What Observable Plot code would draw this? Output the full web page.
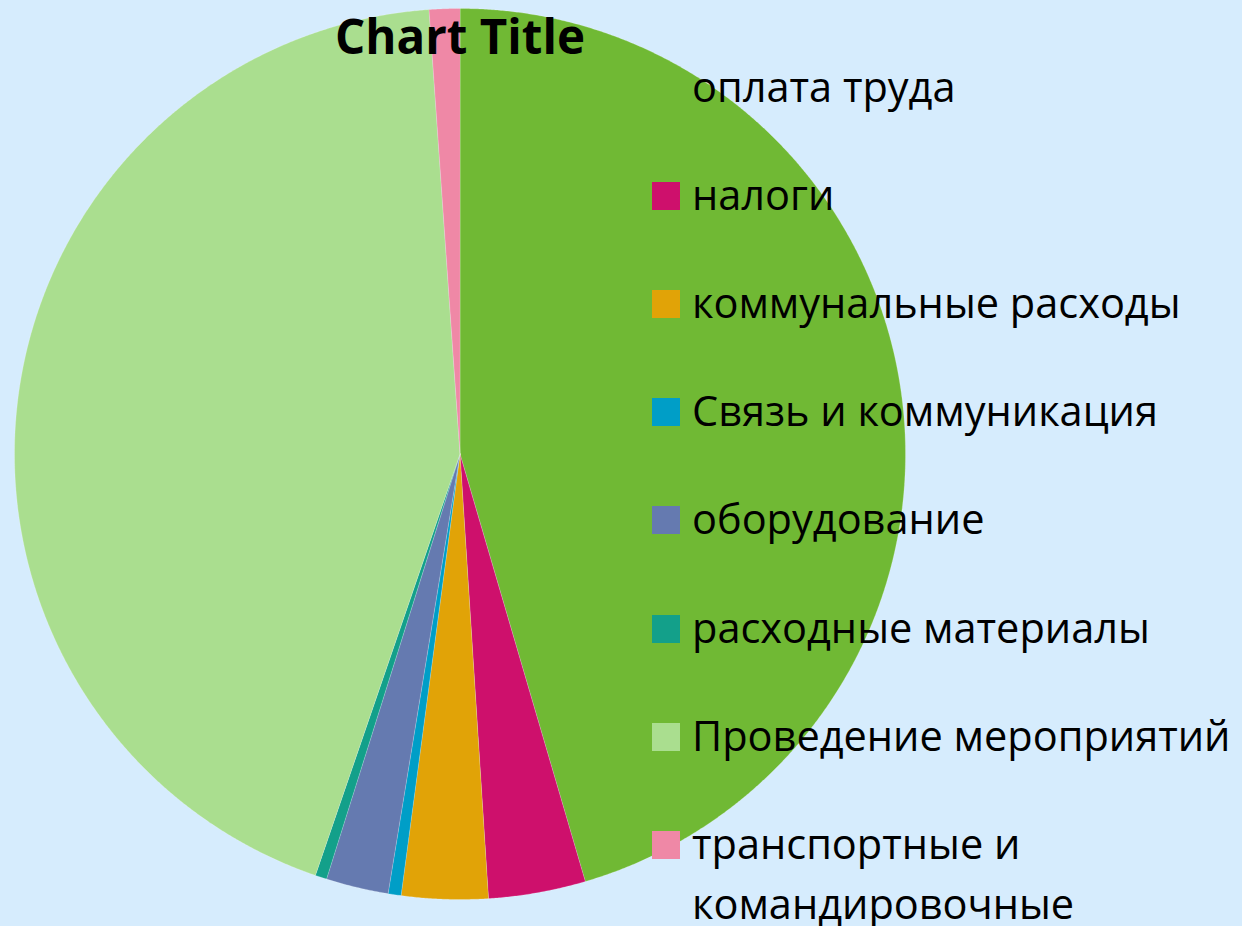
<!DOCTYPE html>
<html><head><meta charset="utf-8">
<script src="https://cdn.jsdelivr.net/npm/d3@7"></script>
<script src="https://cdn.jsdelivr.net/npm/@observablehq/plot@0.6"></script>
<style>
html,body{margin:0;padding:0;background:#D6ECFD;}
#wrap{position:relative;width:1242px;height:926px;overflow:hidden;background:#D6ECFD;}
#wrap svg{position:absolute;left:0;top:0;}
.item{position:absolute;left:692px;width:545px;font-family:"Open Sans",sans-serif;font-size:41.5px;line-height:60px;color:#000;}
.mk{position:absolute;left:652px;width:28px;height:28px;}
</style></head><body><div id="wrap"></div>
<script>
const categories = ["оплата труда","налоги","коммунальные расходы","Связь и коммуникация","оборудование","расходные материалы","Проведение мероприятий","транспортные и командировочные"];
const values = [45.46, 3.52, 3.13, 0.47, 2.26, 0.42, 43.63, 1.11];
const colors = ["#70B934","#CE106C","#E1A307","#009EC7","#657AB0","#13A08A","#AADE8F","#EF88A6"];
const title = "Chart Title";

const data = categories.map((name, i) => ({name, value: values[i]}));
const arcs = d3.pie().sort(null).value(d => d.value)(data);
const features = arcs.map(s => {
  const pts = [[0, 0]];
  const n = Math.max(4, Math.ceil((s.endAngle - s.startAngle) / 0.004));
  for (let i = 0; i <= n; i++) {
    const a = s.startAngle + (s.endAngle - s.startAngle) * i / n;
    pts.push([Math.sin(a), -Math.cos(a)]);
  }
  pts.push([0, 0]);
  return {type: "Feature", properties: {name: s.data.name}, geometry: {type: "Polygon", coordinates: [pts]}};
});

const chart = Plot.plot({
  width: 1242,
  height: 926,
  marginLeft: 14,
  marginRight: 337,
  marginTop: 8,
  marginBottom: 27,
  style: {background: "transparent", overflow: "visible"},
  projection: {type: "identity", domain: {type: "MultiPoint", coordinates: [[-1, -1], [1, 1]]}},
  color: {domain: categories, range: colors},
  marks: [
    Plot.geo(features, {fill: d => d.properties.name, stroke: "#ffffff", strokeOpacity: 0.35, strokeWidth: 0.6}),
    Plot.text([title], {frameAnchor: "top", dy: 30, lineAnchor: "middle", fontSize: 47.5, fontWeight: "bold", fontFamily: "Open Sans", fill: "#000"})
  ]
});
const wrap = document.getElementById("wrap");
wrap.appendChild(chart);

const rowStart = 88, rowStep = 108.1;
categories.forEach((name, i) => {
  const cy = rowStart + i * rowStep;
  const mk = document.createElement("div");
  mk.className = "mk";
  mk.style.top = (cy - 14) + "px";
  mk.style.background = colors[i];
  wrap.appendChild(mk);
  const t = document.createElement("div");
  t.className = "item";
  t.style.top = (cy - 32) + "px";
  t.textContent = name;
  wrap.appendChild(t);
});
</script></body></html>
